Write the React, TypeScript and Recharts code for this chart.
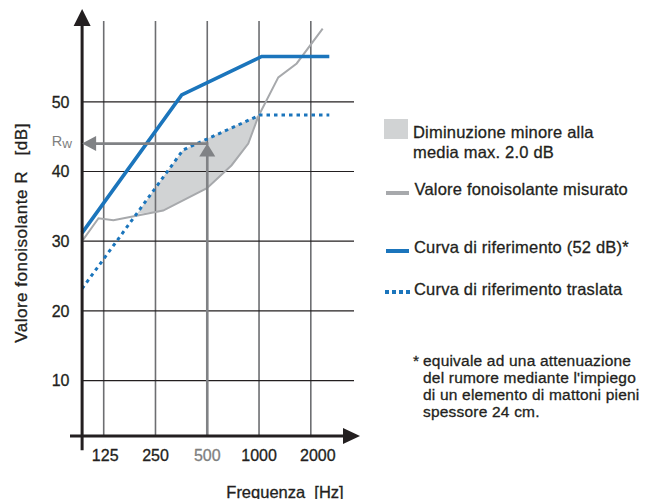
import React from 'react';
import {
  ComposedChart,
  Line,
  Area,
  XAxis,
  YAxis,
  ReferenceLine,
  ReferenceDot,
  Legend,
} from 'recharts';

const FONT = '"Liberation Sans", Arial, Helvetica, sans-serif';
const INK = '#231f20';
const BLUE = '#1b75bc';
const GRAY_LINE = '#a7a9ac';
const FILL = '#d1d3d4';
const ARROW = '#808285';
const VGRID = '#6d6e71';
const SOFT_TEXT = '#7f7f7f';
const TEXT_STROKE = 0.3;

// ---- ticks / categories ----
const freqTicks = [125, 250, 500, 1000, 2000];
const levelTicks = [10, 20, 30, 40, 50];

// ---- measured sound reduction index ----
const measuredFreq = [93.6, 116.6, 142.4, 277, 498, 693, 866, 990, 1294, 1656, 2345];
const measuredR = [30.0, 33.3, 33.0, 34.4, 37.6, 40.9, 44.0, 47.9, 53.5, 55.5, 60.5];

// ---- reference curve (52 dB) ----
const refFreq = [93.6, 355, 1036, 2562];
const refR = [31.2, 51.0, 56.5, 56.5];

// ---- shifted reference curve ----
const shiftedFreq = [93.6, 362, 1013, 2562];
const shiftedR = [23.2, 43.1, 48.1, 48.1];

// ---- shaded deficiency region ----
const shadeFreq = [195, 277, 362, 498, 693, 866, 990];
const shadeLow = [33.9, 34.4, 35.8, 37.6, 40.9, 44.0, 47.9];
const shadeHigh = [33.9, 39.2, 43.1, 44.7, 46.3, 47.4, 48.0];

// ---- Rw marker ----
const rwValue = 44;
const rwFreq = 500;

// ---- frame ----
const xDomain: [number, number] = [79.6, 3864];
const yDomain: [number, number] = [0, 63.3];
const originFreq = 93.6; // where the vertical axis stands
const originLevel = 2.05; // where the horizontal axis lies
const gridEndFreq = 3566;
const gridTopLevel = 61.6;

const measuredData = measuredFreq.map((f, i) => ({ f, r: measuredR[i] }));
const refData = refFreq.map((f, i) => ({ f, r: refR[i] }));
const shiftedData = shiftedFreq.map((f, i) => ({ f, r: shiftedR[i] }));
const shadeData = shadeFreq.map((f, i) => ({ f, band: [shadeLow[i], shadeHigh[i]] }));

const arrowShape =
  (dir: 'up' | 'right' | 'left', len: number, half: number, color: string) =>
  (props: any) => {
    const { cx, cy } = props;
    let d = '';
    if (dir === 'up') d = `M${cx},${cy} L${cx - half},${cy + len} L${cx + half},${cy + len} Z`;
    if (dir === 'right') d = `M${cx},${cy} L${cx - len},${cy - half} L${cx - len},${cy + half} Z`;
    if (dir === 'left') d = `M${cx},${cy} L${cx + len},${cy - half} L${cx + len},${cy + half} Z`;
    return <path d={d} fill={color} stroke="none" />;
  };

const XTick = (props: any) => {
  const { x, y, payload } = props;
  const v = payload.value;
  const dx = v === 2000 ? 7 : v === 125 ? 1.5 : 0;
  const c = v === 500 ? SOFT_TEXT : INK;
  return (
    <text
      x={x + dx}
      y={y + 10.7}
      textAnchor="middle"
      fontFamily={FONT}
      fontSize={16}
      fill={c}
      stroke={c}
      strokeWidth={TEXT_STROKE}
    >
      {v}
    </text>
  );
};

const YTick = (props: any) => {
  const { x, y, payload } = props;
  const v = payload.value;
  if (v === rwValue) {
    return (
      <text x={x - 18.3} y={y + 2.6} textAnchor="start" fontFamily={FONT} fill={SOFT_TEXT} fontSize={14.5}>
        R
        <tspan fontSize={13.5} dy={1.5}>
          w
        </tspan>
      </text>
    );
  }
  return (
    <text
      x={x - 0.5}
      y={y}
      dy="0.36em"
      textAnchor="end"
      fontFamily={FONT}
      fontSize={16}
      fill={INK}
      stroke={INK}
      strokeWidth={TEXT_STROKE}
    >
      {v}
    </text>
  );
};

const YTitle = () => (
  <text
    x={13}
    y={225}
    transform="rotate(-90 13 225)"
    textAnchor="middle"
    dominantBaseline="central"
    fontFamily={FONT}
    fontSize={17}
    letterSpacing={0.5}
    fill={INK}
    stroke={INK}
    strokeWidth={TEXT_STROKE}
    xmlSpace="preserve"
    style={{ whiteSpace: 'pre' }}
  >
    {'Valore fonoisolante R   [dB]'}
  </text>
);

const XTitle = () => (
  <text
    x={277}
    y={489.5}
    textAnchor="middle"
    fontFamily={FONT}
    fontSize={16.5}
    fill={INK}
    stroke={INK}
    strokeWidth={TEXT_STROKE}
    xmlSpace="preserve"
    style={{ whiteSpace: 'pre' }}
  >
    {'Frequenza  [Hz]'}
  </text>
);

const textStyle: React.CSSProperties = {
  position: 'absolute',
  fontFamily: FONT,
  fontSize: 16.5,
  lineHeight: '19.7px',
  color: INK,
  whiteSpace: 'nowrap',
  letterSpacing: 0.2,
  WebkitTextStroke: `${TEXT_STROKE}px ${INK}`,
};

const LegendPanel = () => (
  <div style={{ position: 'relative', width: 640, height: 491 }}>
    <div style={{ position: 'absolute', left: 376, top: 111, width: 23.7, height: 20, background: FILL }} />
    <div style={{ ...textStyle, left: 405, top: 115.2 }}>
      Diminuzione minore alla
      <br />
      media max. 2.0 dB
    </div>

    <div style={{ position: 'absolute', left: 378, top: 182.7, width: 23.3, height: 4, background: GRAY_LINE }} />
    <div style={{ ...textStyle, left: 406.5, top: 172.2 }}>Valore fonoisolante misurato</div>

    <div style={{ position: 'absolute', left: 378, top: 241, width: 23.3, height: 3.7, background: BLUE }} />
    <div style={{ ...textStyle, left: 406, top: 230.2 }}>Curva di riferimento (52 dB)*</div>

    <svg style={{ position: 'absolute', left: 377, top: 282 }} width={25} height={4}>
      <line x1={0} y1={2} x2={25} y2={2} stroke={BLUE} strokeWidth={4} strokeDasharray="4 3" />
    </svg>
    <div style={{ ...textStyle, left: 406, top: 272.2 }}>Curva di riferimento traslata</div>

    <div style={{ ...textStyle, fontSize: 15.5, lineHeight: '17px', left: 405, top: 344.2 }}>*</div>
    <div style={{ ...textStyle, fontSize: 15.5, lineHeight: '17px', left: 415, top: 344.2 }}>
      equivale ad una attenuazione
      <br />
      del rumore mediante l'impiego
      <br />
      di un elemento di mattoni pieni
      <br />
      spessore 24 cm.
    </div>
  </div>
);

export default function App() {
  return (
    <ComposedChart width={640} height={491} margin={{ top: 1.1, right: 288, bottom: 0, left: 0 }}>
      <XAxis
        dataKey="f"
        type="number"
        scale="log"
        domain={xDomain}
        allowDataOverflow
        ticks={freqTicks}
        interval={0}
        axisLine={false}
        tickLine={false}
        tickSize={0}
        tickMargin={0}
        height={48.7}
        tick={<XTick />}
        label={<XTitle />}
      />
      <YAxis
        type="number"
        domain={yDomain}
        allowDataOverflow
        ticks={[...levelTicks, rwValue]}
        interval={0}
        axisLine={false}
        tickLine={false}
        tickSize={0}
        tickMargin={0}
        width={62}
        tick={<YTick />}
        label={<YTitle />}
      />

      <Area
        data={shadeData}
        dataKey="band"
        type="linear"
        fill={FILL}
        fillOpacity={1}
        stroke="none"
        isAnimationActive={false}
        legendType="none"
        dot={false}
        activeDot={false}
      />

      {freqTicks.map((f) => (
        <ReferenceLine
          key={`vg${f}`}
          segment={[
            { x: f, y: originLevel },
            { x: f, y: gridTopLevel },
          ]}
          stroke={VGRID}
          strokeWidth={1.6}
          ifOverflow="visible"
        />
      ))}
      {levelTicks.map((v) => (
        <ReferenceLine
          key={`hg${v}`}
          segment={[
            { x: originFreq, y: v },
            { x: gridEndFreq, y: v },
          ]}
          stroke={INK}
          strokeWidth={1.2}
          ifOverflow="visible"
        />
      ))}

      <Line
        data={measuredData}
        dataKey="r"
        type="linear"
        stroke={GRAY_LINE}
        strokeWidth={2}
        dot={false}
        activeDot={false}
        isAnimationActive={false}
      />
      <Line
        data={shiftedData}
        dataKey="r"
        type="linear"
        stroke={BLUE}
        strokeWidth={3}
        strokeDasharray="3.5 4"
        dot={false}
        activeDot={false}
        isAnimationActive={false}
      />
      <Line
        data={refData}
        dataKey="r"
        type="linear"
        stroke={BLUE}
        strokeWidth={3.6}
        dot={false}
        activeDot={false}
        isAnimationActive={false}
      />

      {/* Rw construction */}
      <ReferenceLine
        segment={[
          { x: rwFreq, y: originLevel },
          { x: rwFreq, y: 42.5 },
        ]}
        stroke={ARROW}
        strokeWidth={2.6}
        ifOverflow="visible"
      />
      <ReferenceLine
        segment={[
          { x: rwFreq + 8, y: rwValue },
          { x: 105, y: rwValue },
        ]}
        stroke={ARROW}
        strokeWidth={2.6}
        ifOverflow="visible"
      />
      <ReferenceDot x={rwFreq} y={rwValue} r={1} ifOverflow="visible" shape={arrowShape('up', 13, 8, ARROW)} />
      <ReferenceDot x={originFreq} y={rwValue} r={1} ifOverflow="visible" shape={arrowShape('left', 14, 7.5, ARROW)} />

      {/* axes */}
      <ReferenceLine
        segment={[
          { x: originFreq, y: 0 },
          { x: originFreq, y: 61.5 },
        ]}
        stroke={INK}
        strokeWidth={3}
        ifOverflow="visible"
      />
      <ReferenceLine
        segment={[
          { x: xDomain[0], y: originLevel },
          { x: 3200, y: originLevel },
        ]}
        stroke={INK}
        strokeWidth={3}
        ifOverflow="visible"
      />
      <ReferenceDot x={originFreq} y={yDomain[1]} r={1} ifOverflow="visible" shape={arrowShape('up', 17, 8.5, INK)} />
      <ReferenceDot x={xDomain[1]} y={originLevel} r={1} ifOverflow="visible" shape={arrowShape('right', 17, 8, INK)} />

      <Legend
        verticalAlign="middle"
        align="center"
        layout="horizontal"
        wrapperStyle={{ left: 0, top: 0, width: 640, height: 491, pointerEvents: 'none' }}
        content={() => <LegendPanel />}
      />
    </ComposedChart>
  );
}
